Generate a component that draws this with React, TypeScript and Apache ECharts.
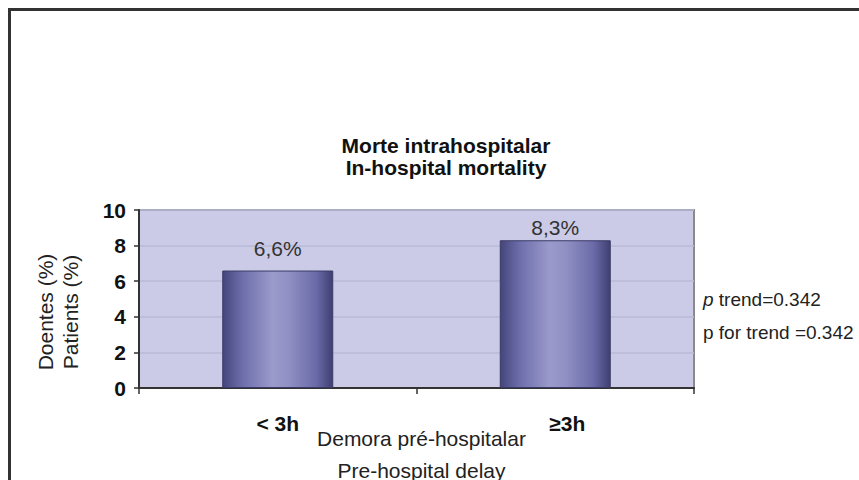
import React, { useEffect, useRef } from "react";
import * as echarts from "echarts";

const titleLines = ["Morte intrahospitalar", "In-hospital mortality"];
const categories = ["< 3h", "≥3h"];
const mortality = [6.6, 8.3];
const valueLabels = ["6,6%", "8,3%"];
const yTicks = [0, 2, 4, 6, 8, 10];
const yNames = ["Doentes (%)", "Patients (%)"];
const xNames = ["Demora pré-hospitalar", "Pre-hospital delay"];
const pNotes = ["trend=0.342", "p for trend =0.342"];

const FONT = "'Liberation Sans', Arial, Helvetica, sans-serif";

export default function App() {
  const ref = useRef<HTMLDivElement>(null);

  useEffect(() => {
    if (!ref.current) return;
    const chart = echarts.init(ref.current, null, { renderer: "svg" });
    const barGradient = new echarts.graphic.LinearGradient(0, 0, 1, 0, [
      { offset: 0, color: "#45457c" },
      { offset: 0.18, color: "#6e6eac" },
      { offset: 0.45, color: "#9a9acb" },
      { offset: 0.6, color: "#9090c4" },
      { offset: 0.85, color: "#6a6aa8" },
      { offset: 1, color: "#3f3f72" },
    ]);
    const labelDistances = [12, 2];
    chart.setOption({
      animation: false,
      backgroundColor: "#ffffff",
      textStyle: { fontFamily: FONT },
      title: {
        text: titleLines.join("\n"),
        left: 441,
        top: 129,
        textAlign: "center",
        textStyle: {
          fontFamily: FONT,
          fontWeight: "bold",
          fontSize: 21,
          lineHeight: 22,
          color: "#111",
        },
      },
      grid: {
        left: 139,
        right: 165,
        top: 210,
        bottom: 92,
        outerBoundsMode: "none",
        containLabel: false,
        show: true,
        backgroundColor: "#cbcbe7",
        borderColor: "#8a8a8a",
        borderWidth: 2,
      },
      xAxis: {
        type: "category",
        data: categories.map((c, i) =>
          i === 1 ? { value: c, textStyle: { padding: [0, 0, 0, 24] } } : { value: c }
        ),
        boundaryGap: true,
        axisLine: { show: true, lineStyle: { color: "#333", width: 2 } },
        axisTick: { show: true, length: 6, lineStyle: { color: "#333", width: 1.5 } },
        axisLabel: {
          margin: 25,
          fontFamily: FONT,
          fontWeight: "bold",
          fontSize: 21,
          color: "#111",
        },
        name: xNames.join("\n"),
        nameLocation: "middle",
        nameGap: 34,
        nameMoveOverlap: false,
        nameTextStyle: {
          fontFamily: FONT,
          fontSize: 21,
          lineHeight: 32,
          color: "#222",
          padding: [0, 0, 0, 10],
        },
        splitLine: { show: false },
      },
      yAxis: {
        type: "value",
        min: yTicks[0],
        max: yTicks[yTicks.length - 1],
        interval: yTicks[1] - yTicks[0],
        axisLine: { show: true, lineStyle: { color: "#333", width: 2 } },
        axisTick: { show: true, length: 5, lineStyle: { color: "#333", width: 1.5 } },
        axisLabel: {
          margin: 13,
          fontFamily: FONT,
          fontWeight: "bold",
          fontSize: 21,
          color: "#111",
        },
        splitLine: { show: true, lineStyle: { color: "#b9b9d8", width: 1.5 } },
      },
      series: [
        {
          type: "bar",
          data: mortality.map((v, i) => ({
            value: v,
            label: {
              show: true,
              position: "top",
              distance: labelDistances[i],
              formatter: valueLabels[i],
              fontFamily: FONT,
              fontSize: 21,
              color: "#333",
            },
          })),
          barWidth: "40%",
          itemStyle: {
            color: barGradient,
            borderColor: "#3a3a66",
            borderWidth: 1,
          },
        },
      ],
      graphic: [
        {
          type: "rect",
          shape: { x: 9.5, y: 9.5, width: 900, height: 600 },
          style: { fill: "none", stroke: "#333333", lineWidth: 3 },
          silent: true,
        },
        ...yNames.map((t, i) => ({
          type: "text",
          x: 45 + i * 25,
          y: 312,
          rotation: Math.PI / 2,
          style: {
            text: t,
            fontFamily: FONT,
            fontSize: 21,
            fill: "#222",
            textAlign: "center",
            textVerticalAlign: "middle",
          },
        })),
        {
          type: "text",
          left: 703,
          top: 290,
          style: {
            text: "{i|p} {n|" + pNotes[0] + "}",
            rich: {
              i: { fontFamily: FONT, fontStyle: "italic", fontSize: 19, fill: "#222" },
              n: { fontFamily: FONT, fontSize: 19, fill: "#222" },
            },
            fontFamily: FONT,
            fontSize: 19,
            fill: "#222",
          },
        },
        {
          type: "text",
          left: 703,
          top: 323,
          style: {
            text: pNotes[1],
            fontFamily: FONT,
            fontSize: 19,
            fill: "#222",
          },
        },
      ],
    });
    return () => chart.dispose();
  }, []);

  return (
    <div
      ref={ref}
      style={{ position: "absolute", left: 0, top: 0, width: 859, height: 480 }}
    />
  );
}
